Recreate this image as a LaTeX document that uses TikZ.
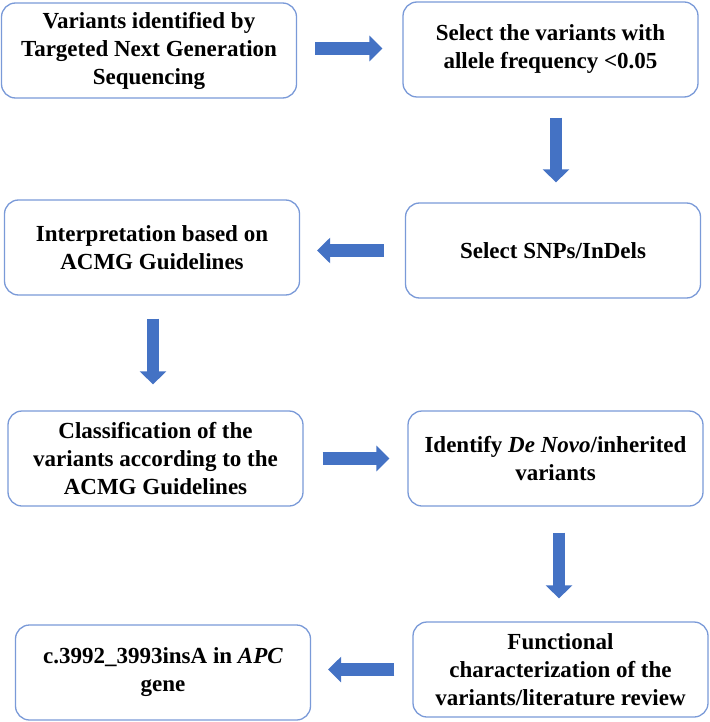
\documentclass[tikz,border=0pt]{standalone}
\usepackage{fontspec}
\setmainfont{Liberation Serif}
\usetikzlibrary{arrows.meta,calc}
\definecolor{arrowblue}{HTML}{4472C4}
\definecolor{boxline}{HTML}{7A9AD8}
\tikzset{
  stepbox/.style={draw=boxline, line width=1.3pt, rounded corners=14pt, fill=white,
    minimum width=295pt, minimum height=95pt, inner sep=0pt, align=center,
    font=\fontsize{23}{28}\selectfont\bfseries},
  barrow/.style={draw=arrowblue, line width=13pt,
    -{Triangle[width=25pt,length=13pt]}},
  varrow/.style={draw=arrowblue, line width=12pt,
    -{Triangle[width=26pt,length=13pt]}}
}
\begin{document}
\begin{tikzpicture}[x=1pt,y=-1pt]
\useasboundingbox (0,0) rectangle (709,722);
\node[stepbox] (b1) at (149,50.5) {Variants identified by\\Targeted Next Generation\\Sequencing};
\node[stepbox] (b2) at (550.5,49.5) {Select the variants with\\allele frequency <0.05};
\node[stepbox] (b3) at (553,250.5) {Select SNPs/InDels};
\node[stepbox] (b4) at (152,247.5) {Interpretation based on\\ACMG Guidelines};
\node[stepbox] (b5) at (155.5,458.5) {Classification of the\\variants according to the\\ACMG Guidelines};
\node[stepbox] (b6) at (555.5,458.5) {Identify \textit{De Novo}/inherited\\variants};
\node[stepbox] (b7) at (560.5,669.5) {Functional\\characterization of the\\variants/literature review};
\node[stepbox] (b8) at (163,672.5) {c.3992\_3993insA in \textit{APC}\\gene};

\draw[barrow, shorten <=18pt, shorten >=20pt] ([yshift=2pt]b1.east) -- ([yshift=2pt]b1.east -| b2.west);
\draw[varrow, shorten <=20pt, shorten >=20pt] ([xshift=5.5pt]b2.south) -- ([xshift=5.5pt]b2.south |- b3.north);
\draw[barrow, shorten <=21pt, shorten >=17pt] (b3.west) -- (b3.west -| b4.east);
\draw[varrow, shorten <=23pt, shorten >=26pt] ([xshift=1pt]b4.south) -- ([xshift=1pt]b4.south |- b5.north);
\draw[barrow, shorten <=19pt, shorten >=18pt] (b5.east) -- (b5.east -| b6.west);
\draw[varrow, shorten <=26pt, shorten >=23pt] ([xshift=3.5pt]b6.south) -- ([xshift=3.5pt]b6.south |- b7.north);
\draw[barrow, shorten <=18pt, shorten >=17pt] (b7.west) -- (b7.west -| b8.east);
\end{tikzpicture}
\end{document}
